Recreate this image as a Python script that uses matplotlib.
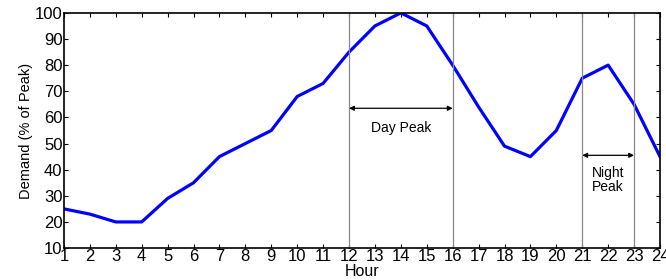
import matplotlib
matplotlib.use("Agg")
import matplotlib.pyplot as plt

plt.rcParams['font.family'] = ['Liberation Sans', 'DejaVu Sans']

# dados
horas = list(range(1, 25))
demanda = [25, 23, 20, 20, 29, 35, 45, 50, 55, 68, 73, 85,
           95, 100, 95, 80, 64, 49, 45, 55, 75, 80, 65, 45]
limites_dia = [12, 16]
limites_noite = [21, 23]

fig = plt.figure(figsize=(6.66, 2.8), dpi=100)
ax = fig.add_axes([0.096, 0.114, 0.895, 0.84])

ax.plot(horas, demanda, color='#0000ff', lw=2.3)

for h in limites_dia + limites_noite:
    ax.axvline(h, color='#888888', lw=0.9)

# setas
ax.annotate('', xy=(limites_dia[0], 63.5), xytext=(limites_dia[1], 63.5),
            arrowprops=dict(arrowstyle='<|-|>', color='black', lw=0.9,
                            mutation_scale=7, shrinkA=0, shrinkB=0))
ax.text(14, 56, 'Day Peak', ha='center', va='center', fontsize=10)
ax.annotate('', xy=(limites_noite[0], 45.5), xytext=(limites_noite[1], 45.5),
            arrowprops=dict(arrowstyle='<|-|>', color='black', lw=0.9,
                            mutation_scale=7, shrinkA=0, shrinkB=0))
ax.text(22, 36, 'Night\nPeak', ha='center', va='center', fontsize=10,
        linespacing=1.0)

ax.set_xlim(1, 24)
ax.set_ylim(10, 100)
ax.set_xticks(horas)
ax.set_yticks(range(10, 101, 10))
ax.tick_params(direction='in', top=True, right=True, labelsize=12,
               length=3, pad=1)
ax.set_xlabel('Hour', fontsize=11.5)
ax.xaxis.set_label_coords(0.5, -0.132)
ax.xaxis.label.set_va('bottom')
ax.set_ylabel('Demand (% of Peak)', fontsize=10.5, labelpad=1)
for s in ax.spines.values():
    s.set_linewidth(1.2)

fig.savefig('out.png', dpi=100)
